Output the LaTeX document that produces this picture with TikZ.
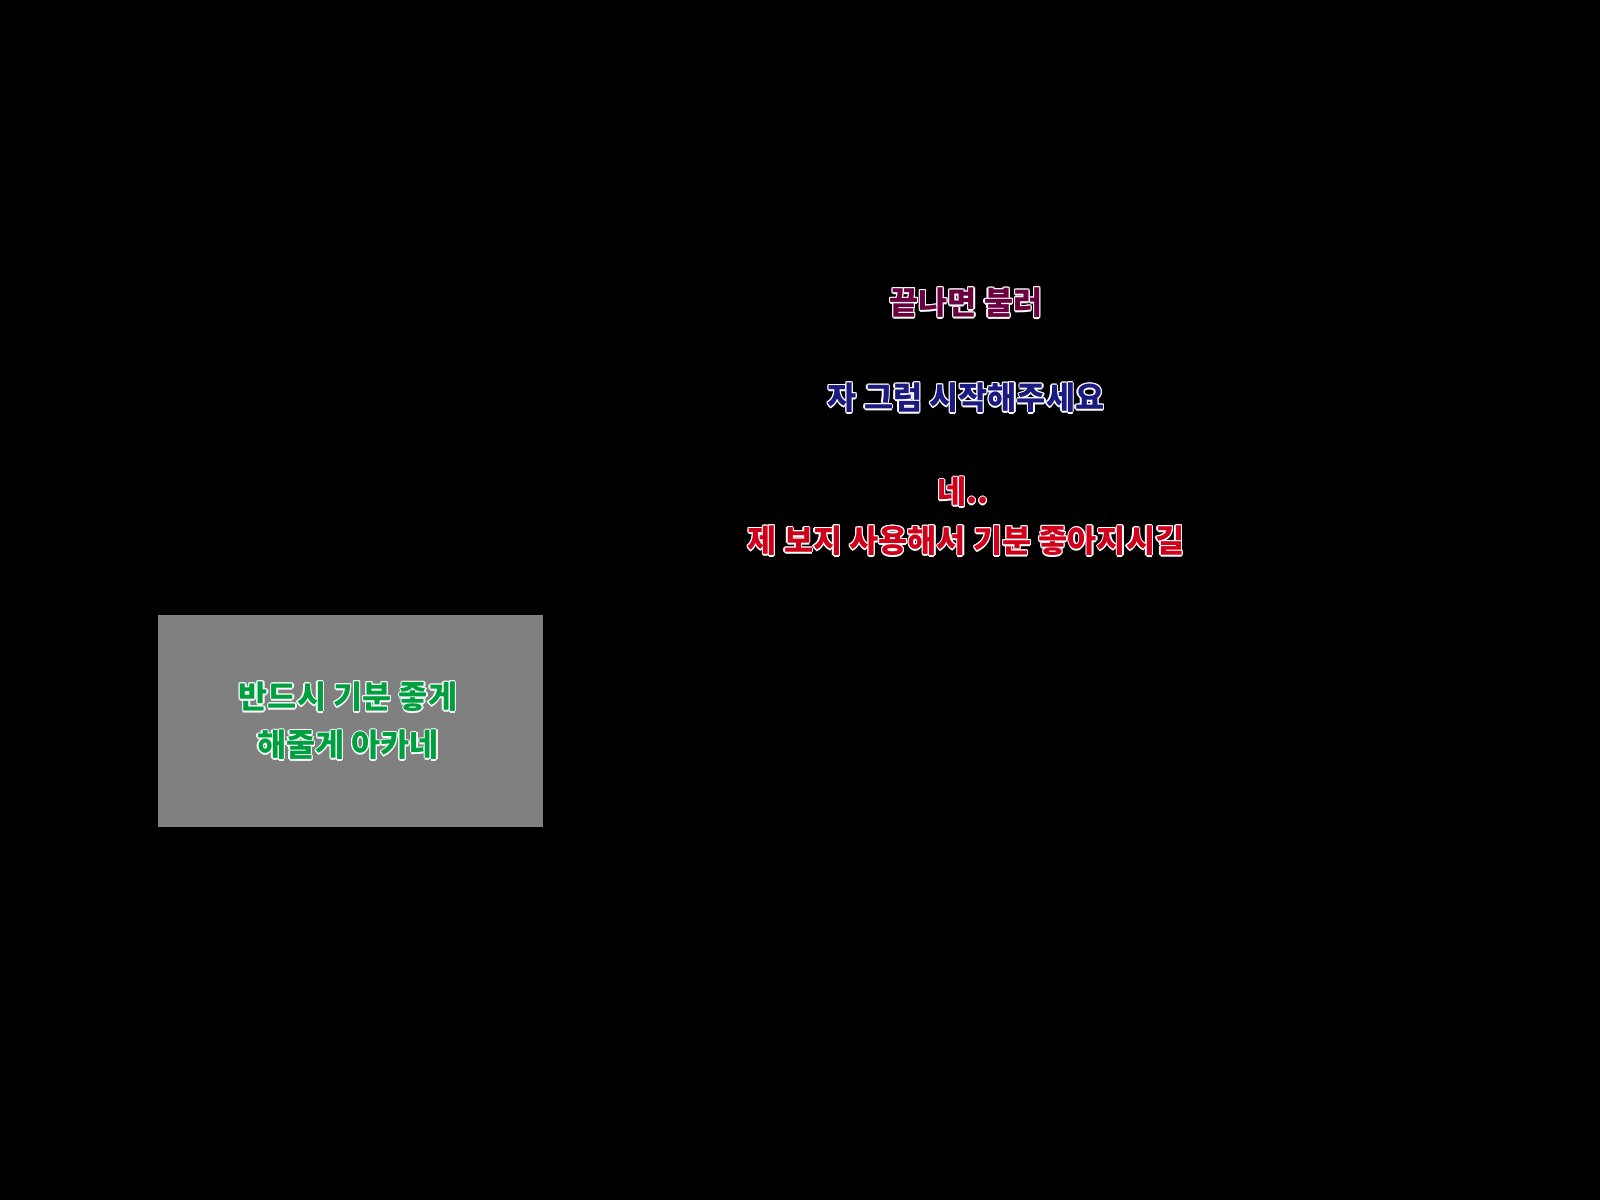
\documentclass[tikz,border=0pt]{standalone}
\usepackage{fontspec}
\newfontfamily\kr{Noto Sans CJK KR}
\usetikzlibrary{positioning}
\definecolor{plumtxt}{HTML}{6B0040}
\definecolor{navytxt}{HTML}{1A1A80}
\definecolor{redtxt}{HTML}{D0001A}
\definecolor{greentxt}{HTML}{00A040}
\definecolor{panelgray}{HTML}{808080}
% outlined caption: white halo copies, then the coloured text
\newcommand{\halotext}[4]{%
  \foreach \dx/\dy in {1/0,-1/0,0/1,0/-1,.7/.7,-.7/.7,.7/-.7,-.7/-.7}
    \node[caption, text=white] at ($(#2)+(\dx*0.35pt,\dy*0.35pt)$) {#4};
  \node[caption, text=#3] (#1) at (#2) {#4};}
\usetikzlibrary{calc}
\begin{document}
\begin{tikzpicture}[x=0.01cm,y=-0.01cm,
    caption/.style={font=\kr\bfseries\fontsize{9pt}{14pt}\selectfont, inner sep=0pt, align=center},
    panel/.style={fill=panelgray, draw=none}]
  \fill[black] (0,0) rectangle (1600,1200);
  \useasboundingbox (0,0) rectangle (1600,1200);

  \fill[panel] (158,615) rectangle (543,827);

  \halotext{done}{966,303}{plumtxt}{끝나면 불러}
  \halotext{start}{966,398}{navytxt}{자 그럼 시작해주세요}
  \halotext{yes}{963,492}{redtxt}{네..}
  \halotext{wish}{966,541}{redtxt}{제 보지 사용해서 기분 좋아지시길}
  \halotext{promise}{348,697}{greentxt}{반드시 기분 좋게}
  \halotext{akane}{348,745}{greentxt}{해줄게 아카네}
\end{tikzpicture}
\end{document}
